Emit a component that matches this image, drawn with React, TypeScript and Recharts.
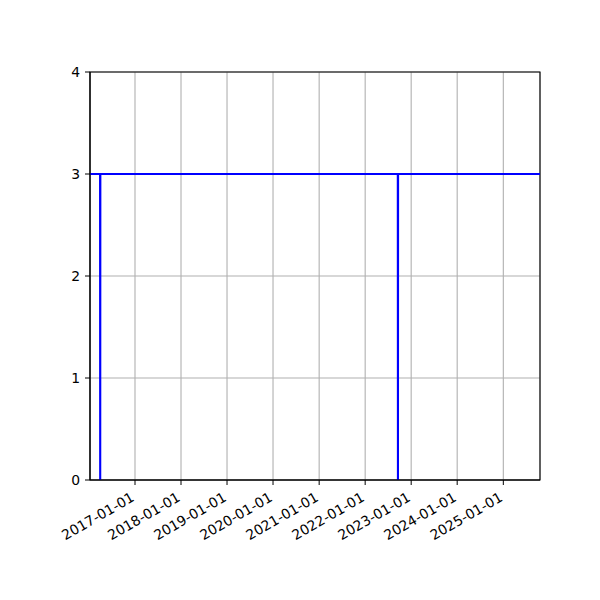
import React from 'react';
import { LineChart, Line, XAxis, YAxis, CartesianGrid, ReferenceArea } from 'recharts';

// dates of the readings and their values (two single-day drops to 0)
const dates = ['2016-01-10', '2016-03-30', '2016-03-31', '2016-04-01', '2022-09-17', '2022-09-18', '2022-09-19', '2025-10-19'];
const values = [3, 3, 0, 3, 3, 0, 3, 3];

const yearTicks = ['2017-01-01', '2018-01-01', '2019-01-01', '2020-01-01', '2021-01-01', '2022-01-01', '2023-01-01', '2024-01-01', '2025-01-01'];
const yTicks = [0, 1, 2, 3, 4];
const xRange = ['2016-01-10', '2025-10-19'];

const data = dates.map((d, i) => ({ t: Date.parse(d), v: values[i] }));
const xDomain = xRange.map((d) => Date.parse(d));

const FONT = 'DejaVu Sans';
const fmt = (v: number) => new Date(v).toISOString().slice(0, 10);

const XTick = (props: any) => {
    const { x, y, payload } = props;
    const ax = x - 5;
    const ay = y + 2;
    return (
        <text
            x={ax}
            y={ay}
            dy="0.76em"
            textAnchor="end"
            transform={`rotate(-30 ${ax} ${ay})`}
            fontSize={13.9}
            fontFamily={FONT}
            fill="#000"
        >
            {fmt(payload.value)}
        </text>
    );
};

export default function App() {
    return (
        <div style={{ position: 'absolute', left: 0, top: 0, width: 600, height: 600, background: '#fff' }}>
            <LineChart width={600} height={600} data={data} margin={{ top: 72, right: 60, bottom: 0, left: 0 }}>
                <CartesianGrid stroke="#b0b0b0" strokeWidth={1.1} />
                <XAxis
                    dataKey="t"
                    type="number"
                    scale="time"
                    domain={xDomain}
                    ticks={yearTicks.map((d) => Date.parse(d))}
                    tick={<XTick />}
                    height={120}
                    tickSize={5}
                    tickMargin={4}
                    stroke="#000"
                    interval={0}
                />
                <YAxis
                    type="number"
                    domain={[0, 4]}
                    ticks={yTicks}
                    width={90}
                    tickSize={5}
                    tickMargin={5}
                    stroke="#000"
                    tick={{ fontSize: 13.9, fontFamily: FONT, fill: '#000' }}
                    interval={0}
                />
                <Line
                    dataKey="v"
                    type="linear"
                    stroke="#0000ff"
                    strokeWidth={2.1}
                    dot={false}
                    isAnimationActive={false}
                />
                <ReferenceArea x1={xDomain[0]} x2={xDomain[1]} y1={0} y2={4} fill="none" stroke="#000" strokeWidth={1.1} />
            </LineChart>
        </div>
    );
}
